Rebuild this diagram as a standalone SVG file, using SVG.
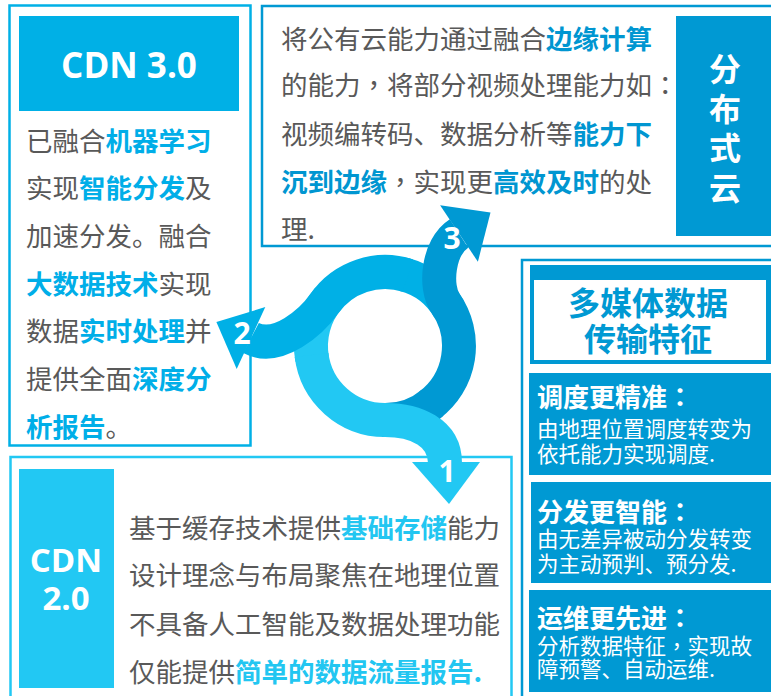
<svg xmlns="http://www.w3.org/2000/svg" width="771" height="696" viewBox="0 0 771 696">
<style>
.t{font-family:"Noto Sans CJK SC","Noto Sans",sans-serif;font-size:26.5px;fill:#595959}
.hA{fill:#00AEE8;font-weight:700}
.hB{fill:#0096D1;font-weight:700}
.hC{fill:#22C6F1;font-weight:700}
.cp{font-family:"Noto Sans CJK TC","Noto Sans CJK SC",sans-serif}
.lat{font-family:"Open Sans","Noto Sans CJK SC",sans-serif;font-weight:700;fill:#fff}
.vt{font-family:"Noto Sans CJK SC",sans-serif;font-weight:700;fill:#fff;font-size:32px}
.ft{font-family:"Noto Sans CJK SC",sans-serif;font-weight:700;fill:#fff;font-size:26px}
.fs{font-family:"Noto Sans CJK SC",sans-serif;fill:#fff;font-size:21.5px}
.num{font-family:"Open Sans","Liberation Sans",sans-serif;font-weight:700;fill:#fff;font-size:30px;text-anchor:middle}
.frame{fill:#fff;stroke-width:2.5}
.ring{fill:none;stroke-width:34;stroke-linecap:butt}
</style>
<rect width="771" height="696" fill="#fff"/>

<g id="cdn30">
  <rect class="frame" x="9.5" y="5.5" width="241" height="440" stroke="#00B0E6"/>
  <rect x="19" y="16" width="220" height="95" fill="#00B0E6"/>
  <text class="lat" x="129" y="78" font-size="35" text-anchor="middle">CDN 3.0</text>
  <text class="t" x="26" y="151">已融合<tspan class="hA">机器学习</tspan></text>
  <text class="t" x="26" y="198">实现<tspan class="hA">智能分发</tspan>及</text>
  <text class="t" x="26" y="246">加速分发。融合</text>
  <text class="t" x="26" y="294"><tspan class="hA">大数据技术</tspan>实现</text>
  <text class="t" x="26" y="341">数据<tspan class="hA">实时处理</tspan>并</text>
  <text class="t" x="26" y="389">提供全面<tspan class="hA">深度分</tspan></text>
  <text class="t" x="26" y="437"><tspan class="hA">析报告</tspan>。</text>
</g>

<g id="distributed-cloud">
  <rect class="frame" x="262" y="6" width="530" height="240" stroke="#0099D3"/>
  <rect x="676" y="16" width="100" height="220" fill="#0099D3"/>
  <text class="vt" x="725" y="81" text-anchor="middle">分</text>
  <text class="vt" x="725" y="120.5" text-anchor="middle">布</text>
  <text class="vt" x="725" y="160" text-anchor="middle">式</text>
  <text class="vt" x="725" y="199.5" text-anchor="middle">云</text>
  <text class="t" x="281" y="49">将公有云能力通过融合<tspan class="hB">边缘计算</tspan></text>
  <text class="t" x="281" y="95">的能力<tspan class="cp">，</tspan>将部分视频处理能力如<tspan class="cp">：</tspan></text>
  <text class="t" x="281" y="144">视频编转码、数据分析等<tspan class="hB">能力下</tspan></text>
  <text class="t" x="281" y="192"><tspan class="hB">沉到边缘</tspan><tspan class="cp">，</tspan>实现更<tspan class="hB">高效及时</tspan>的处</text>
  <text class="t" x="281" y="239">理.</text>
</g>

<g id="cdn20">
  <rect class="frame" x="10.5" y="457" width="501" height="260" stroke="#22C8F3"/>
  <rect x="19" y="469" width="95" height="219" fill="#22C8F3"/>
  <text class="lat" x="66" y="572" font-size="33" text-anchor="middle">CDN</text>
  <text class="lat" x="66" y="610" font-size="33" text-anchor="middle">2.0</text>
  <text class="t" x="129" y="538">基于缓存技术提供<tspan class="hC">基础存储</tspan>能力</text>
  <text class="t" x="129" y="585">设计理念与布局聚焦在地理位置</text>
  <text class="t" x="129" y="634">不具备人工智能及数据处理功能</text>
  <text class="t" x="129" y="682">仅能提供<tspan class="hC">简单的数据流量报告.</tspan></text>
</g>

<g id="features">
  <rect class="frame" x="522" y="260" width="260" height="450" stroke="#0099D3"/>
  <rect x="530" y="265" width="245" height="99" fill="#0099D3"/>
  <rect x="534" y="280" width="232" height="80" fill="#fff"/>
  <text x="648" y="314.5" text-anchor="middle" font-family="Noto Sans CJK SC, sans-serif" font-weight="700" font-size="32" fill="#0099D3">多媒体数据</text>
  <text x="648" y="351" text-anchor="middle" font-family="Noto Sans CJK SC, sans-serif" font-weight="700" font-size="32" fill="#0099D3">传输特征</text>
  <g id="feature-schedule">
    <rect x="529" y="373" width="245" height="102" fill="#0099D3"/>
    <text class="ft" x="537" y="407">调度更精准<tspan class="cp">：</tspan></text>
    <text class="fs" x="537" y="436.5">由地理位置调度转变为</text>
    <text class="fs" x="537" y="461.5">依托能力实现调度.</text>
  </g>
  <g id="feature-distribute">
    <rect x="531" y="482" width="243" height="101" fill="#0099D3"/>
    <text class="ft" x="537" y="521.5">分发更智能<tspan class="cp">：</tspan></text>
    <text class="fs" x="537" y="547">由无差异被动分发转变</text>
    <text class="fs" x="537" y="572">为主动预判、预分发.</text>
  </g>
  <g id="feature-ops">
    <rect x="529" y="590" width="245" height="102" fill="#0099D3"/>
    <text class="ft" x="537" y="627.5">运维更先进<tspan class="cp">：</tspan></text>
    <text class="fs" x="537" y="654">分析数据特征<tspan class="cp">，</tspan>实现故</text>
    <text class="fs" x="537" y="677">障预警、自动运维.</text>
  </g>
</g>

<g id="connectors">
  <g id="ring-tails">
    <path class="ring" stroke="#22C8F3" d="M328.3 298.4 A74 74 0 0 0 312.1 358.9"/>
    <path class="ring" stroke="#0099D3" d="M382.4 420 A74 74 0 0 0 432.6 402.7"/>
    <path class="ring" stroke="#00B0E6" d="M449.1 309 A74 74 0 0 0 404.15 274.5"/>
  </g>
  <g id="arrow-1">
    <path class="ring" stroke="#22C8F3" d="M311.55 355 A74 74 0 0 0 385 420 C415 420 445 432 445 463"/>
    <polygon fill="#22C8F3" points="412,462 480,462 449,504"/>
    <text class="num" x="447" y="482">1</text>
  </g>
  <g id="arrow-2">
    <path class="ring" stroke="#00B0E6" d="M407.9 275.6 A74 74 0 0 0 324.4 303.6 C311.8 321.6 278 352 251 338"/>
    <polygon fill="#00B0E6" points="265.3,307.1 236.7,368.9 216.4,322"/>
    <text class="num" x="242" y="344">2</text>
  </g>
  <g id="arrow-3">
    <path class="ring" stroke="#0099D3" d="M429.5 405.1 A74 74 0 0 0 445.6 303.6 C434 287 438 247 459 233.5"/>
    <polygon fill="#0099D3" points="440.1,205.3 477.9,261.7 490.5,212.4"/>
    <text class="num" x="452" y="249">3</text>
  </g>
</g>
</svg>
